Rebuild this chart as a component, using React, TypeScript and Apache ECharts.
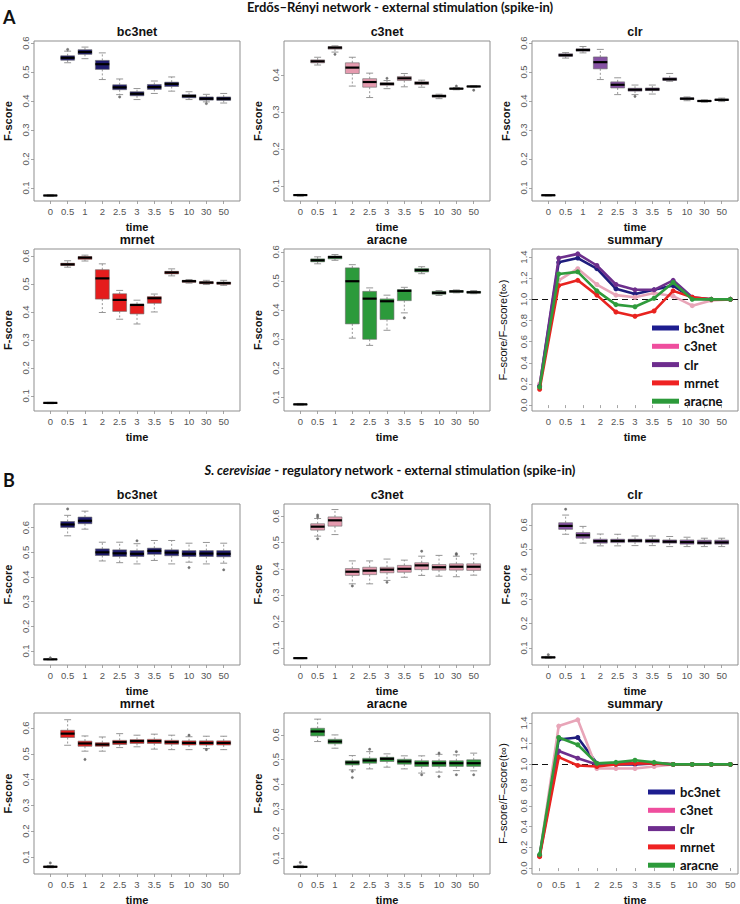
import React, { useEffect, useRef } from "react";
import * as echarts from "echarts";

// ---------- data ----------
const TIMES = ["0", "0.5", "1", "2", "2.5", "3", "3.5", "5", "10", "30", "50"];
const METHODS = ["bc3net", "c3net", "clr", "mrnet", "aracne"];

// box stats per time: [lower whisker, Q1, median, Q3, upper whisker]
const ER_BC3NET = [
  [0.071, 0.073, 0.074, 0.075, 0.077],
  [0.532, 0.541, 0.549, 0.556, 0.572],
  [0.546, 0.561, 0.569, 0.577, 0.586],
  [0.474, 0.509, 0.527, 0.54, 0.566],
  [0.422, 0.439, 0.447, 0.456, 0.476],
  [0.405, 0.418, 0.425, 0.432, 0.443],
  [0.426, 0.44, 0.448, 0.457, 0.469],
  [0.434, 0.45, 0.459, 0.465, 0.483],
  [0.405, 0.411, 0.417, 0.422, 0.432],
  [0.397, 0.403, 0.408, 0.414, 0.423],
  [0.393, 0.402, 0.408, 0.414, 0.426],
];
const ER_BC3NET_OUT = [[1, 0.578], [4, 0.414], [9, 0.391]];

const ER_C3NET = [
  [0.072, 0.074, 0.075, 0.076, 0.077],
  [0.427, 0.433, 0.437, 0.441, 0.448],
  [0.462, 0.47, 0.474, 0.477, 0.479],
  [0.37, 0.404, 0.42, 0.433, 0.448],
  [0.339, 0.367, 0.381, 0.39, 0.405],
  [0.363, 0.372, 0.376, 0.379, 0.385],
  [0.368, 0.385, 0.391, 0.396, 0.404],
  [0.367, 0.374, 0.378, 0.382, 0.386],
  [0.336, 0.34, 0.343, 0.346, 0.348],
  [0.36, 0.362, 0.363, 0.364, 0.366],
  [0.367, 0.368, 0.369, 0.37, 0.371],
];
const ER_C3NET_OUT = [[2, 0.456], [5, 0.391], [9, 0.37], [10, 0.359]];

const ER_CLR = [
  [0.072, 0.073, 0.075, 0.076, 0.077],
  [0.548, 0.554, 0.558, 0.563, 0.567],
  [0.566, 0.572, 0.576, 0.58, 0.588],
  [0.474, 0.511, 0.534, 0.552, 0.578],
  [0.422, 0.445, 0.456, 0.466, 0.48],
  [0.422, 0.434, 0.439, 0.444, 0.455],
  [0.424, 0.436, 0.44, 0.445, 0.455],
  [0.468, 0.471, 0.475, 0.48, 0.495],
  [0.401, 0.405, 0.408, 0.411, 0.414],
  [0.396, 0.398, 0.4, 0.402, 0.404],
  [0.398, 0.402, 0.404, 0.407, 0.41],
];
const ER_CLR_OUT = [[5, 0.416]];

const ER_MRNET = [
  [0.072, 0.073, 0.075, 0.076, 0.077],
  [0.56, 0.566, 0.57, 0.574, 0.583],
  [0.582, 0.588, 0.594, 0.598, 0.603],
  [0.398, 0.446, 0.52, 0.551, 0.572],
  [0.374, 0.402, 0.443, 0.465, 0.477],
  [0.357, 0.393, 0.425, 0.428, 0.442],
  [0.4, 0.431, 0.449, 0.455, 0.464],
  [0.529, 0.536, 0.541, 0.545, 0.554],
  [0.503, 0.506, 0.51, 0.513, 0.516],
  [0.498, 0.501, 0.505, 0.508, 0.513],
  [0.495, 0.499, 0.503, 0.507, 0.513],
];
const ER_MRNET_OUT: number[][] = [];

const ER_ARACNE = [
  [0.072, 0.073, 0.075, 0.076, 0.078],
  [0.559, 0.566, 0.571, 0.576, 0.583],
  [0.571, 0.576, 0.582, 0.586, 0.591],
  [0.303, 0.352, 0.499, 0.545, 0.556],
  [0.278, 0.299, 0.439, 0.464, 0.476],
  [0.33, 0.367, 0.43, 0.438, 0.451],
  [0.39, 0.432, 0.466, 0.47, 0.478],
  [0.525, 0.531, 0.537, 0.543, 0.549],
  [0.45, 0.454, 0.459, 0.464, 0.467],
  [0.459, 0.461, 0.464, 0.467, 0.469],
  [0.456, 0.458, 0.461, 0.464, 0.467],
];
const ER_ARACNE_OUT = [[6, 0.373]];

const ER_SUM_BC3NET = [0.18, 1.35, 1.39, 1.29, 1.1, 1.05, 1.09, 1.13, 1.01, 1.0, 1.0];
const ER_SUM_C3NET = [0.2, 1.18, 1.29, 1.14, 1.04, 1.02, 1.06, 1.03, 0.94, 0.99, 1.0];
const ER_SUM_CLR = [0.18, 1.39, 1.43, 1.32, 1.14, 1.09, 1.09, 1.18, 1.02, 1.0, 1.0];
const ER_SUM_MRNET = [0.15, 1.13, 1.18, 1.04, 0.88, 0.84, 0.89, 1.08, 1.02, 1.0, 1.0];
const ER_SUM_ARACNE = [0.17, 1.24, 1.26, 1.08, 0.95, 0.93, 1.01, 1.16, 1.0, 1.0, 1.0];

const SC_BC3NET = [
  [0.064, 0.065, 0.066, 0.067, 0.068],
  [0.567, 0.601, 0.613, 0.625, 0.65],
  [0.594, 0.616, 0.628, 0.643, 0.667],
  [0.465, 0.487, 0.5, 0.514, 0.541],
  [0.458, 0.483, 0.496, 0.51, 0.541],
  [0.453, 0.483, 0.494, 0.507, 0.535],
  [0.467, 0.492, 0.506, 0.517, 0.548],
  [0.453, 0.486, 0.499, 0.51, 0.548],
  [0.46, 0.483, 0.494, 0.507, 0.537],
  [0.453, 0.483, 0.495, 0.507, 0.54],
  [0.456, 0.482, 0.494, 0.507, 0.537],
];
const SC_BC3NET_OUT = [[0, 0.072], [1, 0.676], [5, 0.547], [8, 0.438], [10, 0.429]];

const SC_C3NET = [
  [0.059, 0.06, 0.061, 0.062, 0.063],
  [0.524, 0.547, 0.56, 0.571, 0.591],
  [0.53, 0.562, 0.584, 0.597, 0.625],
  [0.343, 0.375, 0.389, 0.401, 0.43],
  [0.343, 0.378, 0.393, 0.406, 0.43],
  [0.356, 0.385, 0.397, 0.406, 0.437],
  [0.368, 0.387, 0.4, 0.413, 0.433],
  [0.375, 0.397, 0.413, 0.423, 0.448],
  [0.372, 0.395, 0.406, 0.416, 0.451],
  [0.37, 0.395, 0.408, 0.419, 0.448],
  [0.376, 0.394, 0.408, 0.419, 0.457],
];
const SC_C3NET_OUT = [[1, 0.604], [1, 0.597], [1, 0.514], [3, 0.335], [5, 0.349], [7, 0.467], [9, 0.458], [9, 0.454]];

const SC_CLR = [
  [0.058, 0.06, 0.062, 0.064, 0.066],
  [0.562, 0.582, 0.596, 0.609, 0.64],
  [0.526, 0.546, 0.558, 0.569, 0.594],
  [0.515, 0.526, 0.534, 0.542, 0.563],
  [0.515, 0.528, 0.535, 0.542, 0.562],
  [0.516, 0.53, 0.536, 0.542, 0.555],
  [0.516, 0.528, 0.535, 0.542, 0.555],
  [0.512, 0.526, 0.532, 0.539, 0.553],
  [0.512, 0.522, 0.53, 0.539, 0.55],
  [0.512, 0.522, 0.528, 0.538, 0.546],
  [0.512, 0.522, 0.529, 0.538, 0.546],
];
const SC_CLR_OUT = [[0, 0.073], [1, 0.664]];

const SC_MRNET = [
  [0.058, 0.06, 0.062, 0.064, 0.067],
  [0.533, 0.563, 0.578, 0.591, 0.632],
  [0.51, 0.529, 0.54, 0.549, 0.569],
  [0.51, 0.529, 0.536, 0.543, 0.565],
  [0.524, 0.536, 0.545, 0.552, 0.578],
  [0.527, 0.54, 0.549, 0.555, 0.572],
  [0.518, 0.54, 0.549, 0.556, 0.576],
  [0.516, 0.537, 0.545, 0.552, 0.572],
  [0.516, 0.534, 0.542, 0.55, 0.566],
  [0.52, 0.534, 0.542, 0.55, 0.568],
  [0.516, 0.534, 0.542, 0.55, 0.568],
];
const SC_MRNET_OUT = [[0, 0.077], [2, 0.478], [8, 0.572], [9, 0.516]];

const SC_ARACNE = [
  [0.06, 0.062, 0.064, 0.066, 0.07],
  [0.573, 0.596, 0.614, 0.627, 0.664],
  [0.546, 0.564, 0.573, 0.582, 0.6],
  [0.458, 0.478, 0.488, 0.495, 0.516],
  [0.462, 0.485, 0.496, 0.505, 0.532],
  [0.469, 0.492, 0.503, 0.509, 0.523],
  [0.462, 0.481, 0.492, 0.501, 0.515],
  [0.445, 0.472, 0.485, 0.495, 0.515],
  [0.449, 0.472, 0.485, 0.495, 0.521],
  [0.455, 0.472, 0.485, 0.495, 0.519],
  [0.454, 0.472, 0.485, 0.499, 0.526],
];
const SC_ARACNE_OUT = [[0, 0.082], [3, 0.452], [3, 0.427], [4, 0.542], [7, 0.438], [8, 0.431], [8, 0.526], [9, 0.532], [9, 0.438], [10, 0.438]];

const SC_SUM_BC3NET = [0.12, 1.24, 1.26, 1.01, 1.0, 1.0, 1.01, 1.0, 1.0, 1.0, 1.0];
const SC_SUM_C3NET = [0.12, 1.37, 1.43, 0.96, 0.96, 0.96, 0.98, 1.0, 1.0, 1.0, 1.0];
const SC_SUM_CLR = [0.12, 1.13, 1.06, 1.0, 1.01, 1.01, 1.01, 1.0, 1.0, 1.0, 1.0];
const SC_SUM_MRNET = [0.11, 1.07, 0.99, 0.98, 1.0, 1.01, 1.01, 1.0, 1.0, 1.0, 1.0];
const SC_SUM_ARACNE = [0.13, 1.26, 1.19, 1.01, 1.02, 1.04, 1.02, 1.0, 1.0, 1.0, 1.0];

const FSCORE_TICKS_6 = [0.1, 0.2, 0.3, 0.4, 0.5, 0.6];
const FSCORE_TICKS_4 = [0.1, 0.2, 0.3, 0.4];
const FSCORE_TICKS_7 = [0.1, 0.2, 0.3, 0.4, 0.5, 0.6, 0.7];
const RATIO_TICKS = [0.0, 0.2, 0.4, 0.6, 0.8, 1.0, 1.2, 1.4];

// ---------- styles ----------
const BOX_COLORS: Record<string, string> = {
  bc3net: "#1e1b6d",
  c3net: "#e59aae",
  clr: "#8652a3",
  mrnet: "#e51d1d",
  aracne: "#2c9a3b",
};
const LINE_COLORS: Record<string, string> = {
  bc3net: "#1f1d7d",
  c3net: "#e8a5b8",
  clr: "#6d2f8c",
  mrnet: "#e8231f",
  aracne: "#2f9b3c",
};
const LEGEND_COLORS: Record<string, string> = {
  bc3net: "#1d1d8f",
  c3net: "#ef4e9e",
  clr: "#6e2d8e",
  mrnet: "#ef2222",
  aracne: "#2c9a3a",
};

const FONT = "'Liberation Sans', Arial, Helvetica, sans-serif";
const HEAD_FONT = "Lato, 'Open Sans', sans-serif";
const FRAME_W = 206;
const COL_X = [34, 284, 532];
const ROWS = [
  { top: 41, h: 160 },
  { top: 249, h: 162 },
  { top: 504, h: 161 },
  { top: 713, h: 161 },
];
// R axis extents (1..n extended by 4%)
const BOX_X = [0.06, 11.94];
const SUM_X = [0.6, 11.4];
const BOX_WEX = 0.8;

type Panel = {
  title: string;
  row: number;
  col: number;
  kind: "box" | "sum";
  method?: string;
  boxes?: number[][];
  outliers?: number[][];
  lines?: Record<string, number[]>;
  y: [number, number];
  ticks: number[];
  shiftedLabels?: boolean;
  legendPos?: [number, number];
};

const PANELS: Panel[] = [
  { title: "bc3net", row: 0, col: 0, kind: "box", method: "bc3net", boxes: ER_BC3NET, outliers: ER_BC3NET_OUT, y: [0.055, 0.607], ticks: FSCORE_TICKS_6 },
  { title: "c3net", row: 0, col: 1, kind: "box", method: "c3net", boxes: ER_C3NET, outliers: ER_C3NET_OUT, y: [0.059, 0.492], ticks: FSCORE_TICKS_4 },
  { title: "clr", row: 0, col: 2, kind: "box", method: "clr", boxes: ER_CLR, outliers: ER_CLR_OUT, y: [0.055, 0.607], ticks: FSCORE_TICKS_6 },
  { title: "mrnet", row: 1, col: 0, kind: "box", method: "mrnet", boxes: ER_MRNET, outliers: ER_MRNET_OUT, y: [0.046, 0.625], ticks: FSCORE_TICKS_6 },
  { title: "aracne", row: 1, col: 1, kind: "box", method: "aracne", boxes: ER_ARACNE, outliers: ER_ARACNE_OUT, y: [0.052, 0.61], ticks: FSCORE_TICKS_6 },
  {
    title: "summary", row: 1, col: 2, kind: "sum",
    lines: { bc3net: ER_SUM_BC3NET, c3net: ER_SUM_C3NET, clr: ER_SUM_CLR, mrnet: ER_SUM_MRNET, aracne: ER_SUM_ARACNE },
    y: [-0.056, 1.476], ticks: RATIO_TICKS, shiftedLabels: true, legendPos: [647, 316],
  },
  { title: "bc3net", row: 2, col: 0, kind: "box", method: "bc3net", boxes: SC_BC3NET, outliers: SC_BC3NET_OUT, y: [0.043, 0.696], ticks: FSCORE_TICKS_7 },
  { title: "c3net", row: 2, col: 1, kind: "box", method: "c3net", boxes: SC_C3NET, outliers: SC_C3NET_OUT, y: [0.035, 0.646], ticks: FSCORE_TICKS_6 },
  { title: "clr", row: 2, col: 2, kind: "box", method: "clr", boxes: SC_CLR, outliers: SC_CLR_OUT, y: [0.031, 0.685], ticks: FSCORE_TICKS_6 },
  { title: "mrnet", row: 3, col: 0, kind: "box", method: "mrnet", boxes: SC_MRNET, outliers: SC_MRNET_OUT, y: [0.034, 0.658], ticks: FSCORE_TICKS_6 },
  { title: "aracne", row: 3, col: 1, kind: "box", method: "aracne", boxes: SC_ARACNE, outliers: SC_ARACNE_OUT, y: [0.035, 0.689], ticks: FSCORE_TICKS_6 },
  {
    title: "summary", row: 3, col: 2, kind: "sum",
    lines: { bc3net: SC_SUM_BC3NET, c3net: SC_SUM_C3NET, clr: SC_SUM_CLR, mrnet: SC_SUM_MRNET, aracne: SC_SUM_ARACNE },
    y: [-0.057, 1.496], ticks: RATIO_TICKS, legendPos: [643, 780],
  },
];

const TIME_POS = TIMES.map((_, k) => k + 1);
// time-label positions of the A summary, which sit at the box-plot positions
const SHIFTED_POS = TIMES.map(
  (_, k) => SUM_X[0] + ((k + 1 - BOX_X[0]) / (BOX_X[1] - BOX_X[0])) * (SUM_X[1] - SUM_X[0])
);

function buildOption() {
  const grid: any[] = [];
  const xAxis: any[] = [];
  const yAxis: any[] = [];
  const series: any[] = [];
  const legend: any[] = [];
  const graphic: any[] = [];

  PANELS.forEach((p, i) => {
    const left = COL_X[p.col];
    const { top, h } = ROWS[p.row];
    grid.push({
      left, top, width: FRAME_W, height: h,
      show: true, borderColor: "#8f8f8f", borderWidth: 1, backgroundColor: "transparent",
      containLabel: false, outerBoundsMode: "none",
    });
    const isSum = p.kind === "sum";
    const xPos = p.shiftedLabels ? SHIFTED_POS : TIME_POS;
    const xr = isSum ? SUM_X : BOX_X;
    xAxis.push({
      gridIndex: i, type: "value", min: xr[0], max: xr[1],
      axisLine: { show: false }, splitLine: { show: false },
      axisTick: { show: true, customValues: xPos, length: 3, lineStyle: { color: "#8f8f8f", width: 0.8 } },
      axisLabel: {
        customValues: xPos, fontSize: 9.5, color: "#555", margin: 5, fontFamily: FONT,
        formatter: (v: number) => {
          const k = xPos.findIndex((q) => Math.abs(q - v) < 1e-6);
          return k >= 0 ? TIMES[k] : "";
        },
      },
      name: "time", nameLocation: "middle", nameGap: 20,
      nameTextStyle: { fontSize: 11, fontWeight: "bold", color: "#111", fontFamily: FONT },
    });
    yAxis.push({
      gridIndex: i, type: "value", min: p.y[0], max: p.y[1],
      axisLine: { show: false }, splitLine: { show: false },
      axisTick: { show: true, customValues: p.ticks, length: 3, lineStyle: { color: "#8f8f8f", width: 0.8 } },
      axisLabel: {
        customValues: p.ticks, rotate: 90, fontSize: 9.5, color: "#555", margin: 4, fontFamily: FONT,
        formatter: (v: number) => v.toFixed(1),
      },
      name: isSum ? "F–score/F–score(t∞)" : "F-score",
      nameLocation: "middle", nameGap: isSum ? 24 : 21,
      nameTextStyle: { fontSize: 11, fontWeight: isSum ? "normal" : "bold", color: "#111", fontFamily: FONT },
    });

    graphic.push({
      type: "text", x: left + FRAME_W / 2, y: top - 9,
      style: { text: p.title, fontSize: 12.5, fontWeight: "bold", fontFamily: FONT, fill: "#111", align: "center", verticalAlign: "middle" },
    });

    if (p.kind === "box") {
      const color = BOX_COLORS[p.method!];
      series.push({
        type: "custom",
        name: p.method + "-box-" + i,
        xAxisIndex: i, yAxisIndex: i,
        encode: { x: 0, y: [1, 2, 3, 4, 5] },
        data: p.boxes!.map((b, k) => [TIME_POS[k], ...b]),
        renderItem: (params: any, api: any) => {
          const x = api.value(0);
          const lo = api.coord([x, api.value(1)]);
          const q1 = api.coord([x, api.value(2)]);
          const md = api.coord([x, api.value(3)]);
          const q3 = api.coord([x, api.value(4)]);
          const hi = api.coord([x, api.value(5)]);
          const bw = api.size([BOX_WEX, 0])[0];
          const cx = lo[0];
          const hw = bw / 2;
          const cw = bw / 4;
          const wStyle = { stroke: "#8a8a8a", lineWidth: 0.9, lineDash: [2, 2] };
          const cStyle = { stroke: "#8a8a8a", lineWidth: 0.9 };
          return {
            type: "group",
            children: [
              { type: "line", shape: { x1: cx, y1: q3[1], x2: cx, y2: hi[1] }, style: wStyle },
              { type: "line", shape: { x1: cx, y1: q1[1], x2: cx, y2: lo[1] }, style: wStyle },
              { type: "line", shape: { x1: cx - cw, y1: hi[1], x2: cx + cw, y2: hi[1] }, style: cStyle },
              { type: "line", shape: { x1: cx - cw, y1: lo[1], x2: cx + cw, y2: lo[1] }, style: cStyle },
              {
                type: "rect",
                shape: { x: cx - hw, y: q3[1], width: bw, height: Math.max(q1[1] - q3[1], 0.5) },
                style: { fill: color, stroke: "#6a6a6a", lineWidth: 0.6 },
              },
              { type: "line", shape: { x1: cx - hw, y1: md[1], x2: cx + hw, y2: md[1] }, style: { stroke: "#000", lineWidth: 2.2 } },
            ],
          };
        },
      });
      series.push({
        type: "scatter",
        name: p.method + "-out-" + i,
        xAxisIndex: i, yAxisIndex: i,
        data: p.outliers!.map(([k, v]) => [TIME_POS[k], v]),
        symbol: "circle", symbolSize: 2.5,
        itemStyle: { color: "#555", borderColor: "#555", borderWidth: 0.3 },
      });
    } else {
      METHODS.forEach((m, j) => {
        series.push({
          type: "line",
          name: m,
          xAxisIndex: i, yAxisIndex: i,
          data: p.lines![m].map((v, k) => [TIME_POS[k], v]),
          symbol: "circle", symbolSize: 5,
          lineStyle: { color: LINE_COLORS[m], width: 2.6 },
          itemStyle: { color: LINE_COLORS[m] },
          z: 3 + j,
          markLine: j === 0 ? {
            silent: true, symbol: ["none", "none"], label: { show: false },
            lineStyle: { color: "#111", type: [6, 4], width: 1.2 },
            data: [{ yAxis: 1 }],
            z: 1,
          } : undefined,
        });
      });
      legend.push({
        orient: "vertical", left: p.legendPos![0], top: p.legendPos![1],
        icon: "rect", itemWidth: 27, itemHeight: 5, itemGap: 4.3, selectedMode: false,
        textStyle: { fontSize: 13, fontWeight: "bold", fontFamily: HEAD_FONT, color: "#111", lineHeight: 14 },
        data: METHODS.map((m) => ({ name: m, itemStyle: { color: LEGEND_COLORS[m] } })),
      });
    }
  });

  // headers
  graphic.push({
    type: "text", x: 3, y: 17,
    style: { text: "A", fontSize: 18, fontWeight: "bold", fontFamily: HEAD_FONT, fill: "#111", align: "left", verticalAlign: "middle" },
  });
  graphic.push({
    type: "text", x: 400, y: 7,
    style: { text: "Erdős–Rényi network - external stimulation (spike-in)", fontSize: 13, fontWeight: "bold", fontFamily: HEAD_FONT, fill: "#111", align: "center", verticalAlign: "middle" },
  });
  graphic.push({
    type: "text", x: 3, y: 480,
    style: { text: "B", fontSize: 18, fontWeight: "bold", fontFamily: HEAD_FONT, fill: "#111", align: "left", verticalAlign: "middle" },
  });
  graphic.push({
    type: "text", x: 390, y: 470,
    style: {
      text: "{i|S. cerevisiae}{n| - regulatory network - external stimulation (spike-in)}",
      align: "center", verticalAlign: "middle",
      rich: {
        i: { fontSize: 13, fontWeight: "bold", fontStyle: "italic", fontFamily: HEAD_FONT, fill: "#111" },
        n: { fontSize: 13, fontWeight: "bold", fontFamily: HEAD_FONT, fill: "#111" },
      },
    },
  });

  return {
    animation: false,
    backgroundColor: "#ffffff",
    grid, xAxis, yAxis, series, legend,
    graphic: { elements: graphic },
  };
}

export default function App() {
  const ref = useRef<HTMLDivElement>(null);
  useEffect(() => {
    document.body.style.margin = "0";
    const chart = echarts.init(ref.current!, undefined, { renderer: "svg" });
    chart.setOption(buildOption() as any);
    return () => chart.dispose();
  }, []);
  return <div ref={ref} style={{ width: 740, height: 904 }} />;
}
